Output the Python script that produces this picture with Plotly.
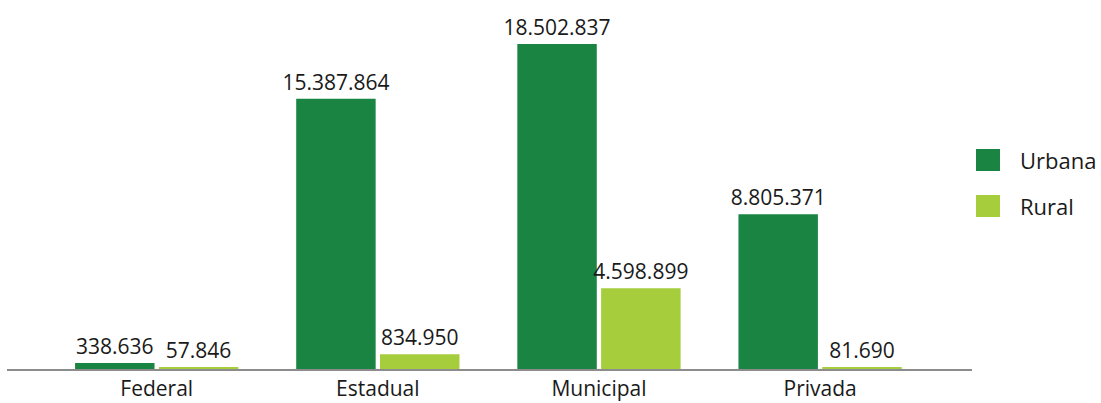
import plotly.graph_objects as go

# Matrículas por dependência administrativa e localização
categorias = ["Federal", "Estadual", "Municipal", "Privada"]
urbana = [338636, 15387864, 18502837, 8805371]
rural = [57846, 834950, 4598899, 81690]
series_nomes = ["Urbana", "Rural"]

COR_URBANA = "#1a8443"
COR_RURAL = "#a6cd3c"
FONTE = "Open Sans"

W, H = 1101, 403
M_L, M_R, M_T, M_B = 7, 129, 10, 34
PLOT_W = W - M_L - M_R
PLOT_H = H - M_T - M_B


def px_x(px):
    """Pixel column -> paper x."""
    return (px - M_L) / PLOT_W


def px_y(py):
    """Pixel row -> paper y."""
    return (H - M_B - py) / PLOT_H


fig = go.Figure()
for nome, valores, cor in [(series_nomes[0], urbana, COR_URBANA),
                           (series_nomes[1], rural, COR_RURAL)]:
    fig.add_trace(go.Bar(
        x=categorias, y=valores, name=nome,
        marker=dict(color=cor, line=dict(width=0)),
        texttemplate="%{y:,.0f}", textposition="outside",
        constraintext="none",
        textfont=dict(family=FONTE, size=21, color="#1a1a1a"),
        cliponaxis=False, showlegend=False,
    ))

# legenda desenhada à direita
for i, (nome, cor) in enumerate([(series_nomes[0], COR_URBANA),
                                 (series_nomes[1], COR_RURAL)]):
    top = 149 + i * 46
    fig.add_shape(type="rect", xref="paper", yref="paper",
                  x0=px_x(976), x1=px_x(1000), y0=px_y(top + 22), y1=px_y(top),
                  fillcolor=cor, line=dict(width=0))
    fig.add_annotation(xref="paper", yref="paper", x=px_x(1018), y=px_y(top + 11),
                       text=nome, showarrow=False, xanchor="left", yanchor="middle",
                       font=dict(family=FONTE, size=22, color="#1a1a1a"))

fig.update_layout(
    width=W, height=H,
    margin=dict(l=M_L, r=M_R, t=M_T, b=M_B),
    paper_bgcolor="white", plot_bgcolor="white",
    barmode="group", bargap=0.242, bargroupgap=0.052,
    separators=",.",
    xaxis=dict(range=[-0.677, 3.687], showline=True, linecolor="#8c8c8c",
               linewidth=1.5, showgrid=False, zeroline=False, ticks="",
               automargin=False,
               tickfont=dict(family=FONTE, size=21, color="#1a1a1a"),
               ticklabelstandoff=0),
    yaxis=dict(range=[0, 20438000], visible=False, showgrid=False,
               zeroline=False, automargin=False),
    font=dict(family=FONTE),
)

fig.write_html("out.html")
